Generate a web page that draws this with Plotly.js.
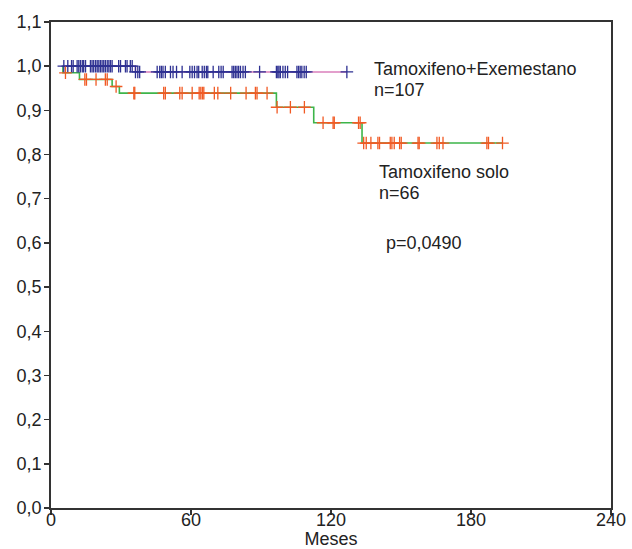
<!DOCTYPE html>
<html>
<head>
<meta charset="utf-8">
<script src="https://cdn.plot.ly/plotly-3.0.1.min.js"></script>
<style>html,body{margin:0;padding:0;background:#fff;}#chart{width:632px;height:549px;}</style>
</head>
<body>
<div id="chart"></div>
<script>
// Tamoxifeno+Exemestano (n=107): step curve
var exeStepTimes = [5.0, 36.2, 126.8];
var exeStepSurv  = [1.0, 0.987, 0.987];
var exeCensorTimes = [5.5, 7.2, 8.8, 9.5, 11.2, 11.9, 12.6, 13.4, 14.0, 14.8, 16.9, 17.6, 18.3, 19.1, 19.8,
  20.5, 21.2, 21.9, 22.6, 23.3, 24.1, 24.8, 25.5, 26.2, 29.0, 29.8, 31.9, 32.6, 34.0, 34.8,
  36.2, 37.2, 38.0, 45.5, 46.6, 47.3, 48.0, 49.0, 51.2, 52.3, 53.8, 56.2, 59.5, 60.5, 61.5, 62.6,
  63.3, 64.8, 65.7, 66.6, 67.2, 69.5, 71.9, 72.9, 73.8, 77.6, 78.3, 79.0, 79.7, 80.4, 81.2, 82.3,
  83.3, 89.4, 96.6, 97.2, 97.7, 98.3, 99.4, 100.4, 101.4, 105.4, 106.1, 106.8, 107.5, 108.5, 109.4, 126.8];

// Tamoxifeno solo (n=66): step curve
var tamStepTimes = [5.1, 5.1, 12.2, 26.2, 29.3, 96.6, 112.6, 133.3, 193.5];
var tamStepSurv  = [1.0, 0.985, 0.970, 0.954, 0.939, 0.907, 0.872, 0.826, 0.826];
var tamCensorTimes = [6.2, 14.5, 15.2, 19.3, 23.3, 24.1, 27.9,
  35.5, 35.9, 48.3, 49.0, 55.2, 56.2, 60.5, 63.5, 64.2, 64.9, 65.5, 70.0, 71.5, 77.0, 83.6, 87.6, 88.3, 92.6,
  96.9, 102.6, 108.6, 116.6, 120.9, 121.4, 131.8, 132.5,
  134.0, 135.1, 137.1, 140.1, 140.8, 145.4, 146.1, 147.1, 149.4, 150.1, 157.3, 157.8, 165.4, 166.4, 168.0,
  186.8, 187.5, 193.5];

var xTicks = [0, 60, 120, 180, 240];
var yTicks = [0, 0.1, 0.2, 0.3, 0.4, 0.5, 0.6, 0.7, 0.8, 0.9, 1.0, 1.1];

function survAt(times, surv, t) {
  var s = surv[0];
  for (var i = 0; i < times.length; i++) { if (times[i] <= t) s = surv[i]; }
  return s;
}
function censorY(times, surv, cts) { return cts.map(function(t){ return survAt(times, surv, t); }); }

var exeMark = '#2E3192', tamMark = '#F15A24';
var traces = [
  {x: exeStepTimes, y: exeStepSurv, mode: 'lines', line: {shape: 'hv', color: '#DA80BC', width: 1.6}, hoverinfo: 'skip'},
  {x: tamStepTimes, y: tamStepSurv, mode: 'lines', line: {shape: 'hv', color: '#3DB54A', width: 1.6}, hoverinfo: 'skip'},
  {x: exeCensorTimes, y: censorY(exeStepTimes, exeStepSurv, exeCensorTimes), mode: 'markers',
   marker: {symbol: 'cross-thin-open', size: 9, color: exeMark, line: {color: exeMark, width: 1.3}}},
  {x: tamCensorTimes, y: censorY(tamStepTimes, tamStepSurv, tamCensorTimes), mode: 'markers',
   marker: {symbol: 'cross-thin-open', size: 9, color: tamMark, line: {color: tamMark, width: 1.3}}}
];

var fnt = {family: 'Liberation Sans, Arial, sans-serif', size: 18, color: '#222'};
var layout = {
  width: 632, height: 549,
  margin: {l: 51, r: 21, t: 22, b: 41},
  showlegend: false,
  separators: ',.',
  paper_bgcolor: '#fff', plot_bgcolor: '#fff',
  font: fnt,
  xaxis: {range: [0, 240], tickvals: xTicks, ticks: 'outside', ticklen: 5, tickwidth: 1.5, tickcolor: '#333',
    showline: true, linecolor: '#333', linewidth: 1.8, mirror: true, showgrid: false, zeroline: false,
    ticklabelstandoff: -10,
    tickfont: fnt, title: {text: 'Meses', font: fnt, standoff: 10}, automargin: false},
  yaxis: {range: [0, 1.1], tickvals: yTicks, tickformat: '.1f', ticks: 'outside', ticklen: 5, tickwidth: 1.5, tickcolor: '#333',
    showline: true, linecolor: '#333', linewidth: 1.8, mirror: true, showgrid: false, zeroline: false,
    ticklabelstandoff: -1,
    tickfont: fnt, automargin: false},
  annotations: [
    {x: 137.5, y: 0.994, xref: 'x', yref: 'y', text: 'Tamoxifeno+Exemestano', showarrow: false, xanchor: 'left', font: fnt},
    {x: 137.5, y: 0.946, xref: 'x', yref: 'y', text: 'n=107', showarrow: false, xanchor: 'left', font: fnt},
    {x: 139.5, y: 0.760, xref: 'x', yref: 'y', text: 'Tamoxifeno solo', showarrow: false, xanchor: 'left', font: fnt},
    {x: 139.5, y: 0.713, xref: 'x', yref: 'y', text: 'n=66', showarrow: false, xanchor: 'left', font: fnt},
    {x: 142.5, y: 0.600, xref: 'x', yref: 'y', text: 'p=0,0490', showarrow: false, xanchor: 'left', font: fnt}
  ]
};
Plotly.newPlot('chart', traces, layout, {displayModeBar: false, staticPlot: true});
</script>
</body>
</html>
